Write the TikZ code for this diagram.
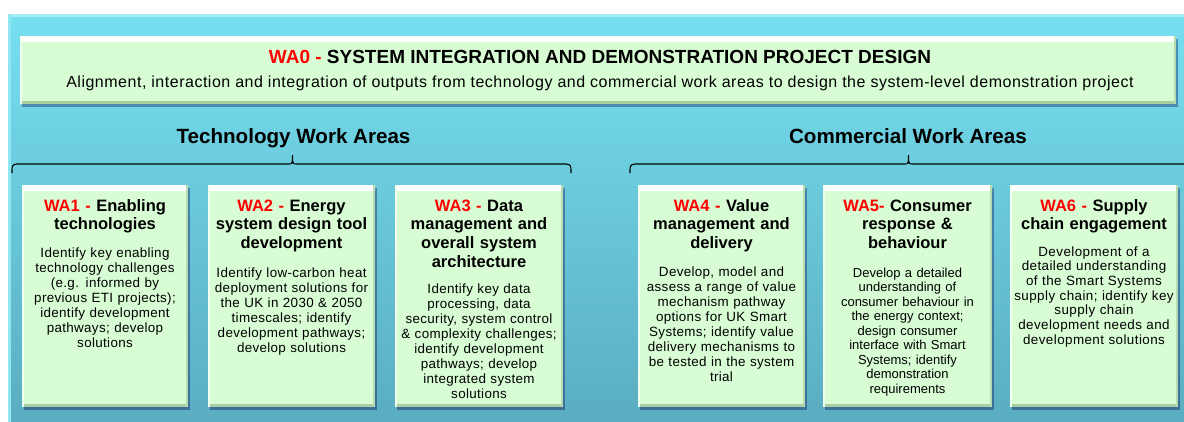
\documentclass[tikz,border=0pt]{standalone}
\usepackage{fontspec}
\setmainfont{Liberation Sans}
\newfontfamily\bodyfont[LetterSpace=2.5]{Liberation Sans}
\newfontfamily\bodyfontw[LetterSpace=3.2]{Liberation Sans}
\newfontfamily\subfont[LetterSpace=3.2]{Liberation Sans}
\usetikzlibrary{shadows}
\definecolor{panelTop}{RGB}{118,224,240}
\definecolor{panelBot}{RGB}{90,172,192}
\definecolor{boxgreen}{RGB}{216,252,212}
\definecolor{boxedge}{RGB}{168,206,160}
\definecolor{wared}{RGB}{255,0,0}
\tikzset{
  greenbox/.style={draw=none, fill=boxgreen, inner sep=0pt,
    drop shadow={shadow xshift=1.5pt, shadow yshift=-2.5pt, fill=black!70!blue, opacity=0.35},
    path picture={
      \shade[top color=white, bottom color=boxgreen]
        (path picture bounding box.north west) rectangle ([yshift=-5pt]path picture bounding box.north east);
      \fill[boxedge] ([yshift=3pt]path picture bounding box.south west) rectangle (path picture bounding box.south east);
      \fill[boxedge!70!boxgreen] ([xshift=-2.5pt]path picture bounding box.north east) rectangle (path picture bounding box.south east);
      \fill[white!60!boxgreen] (path picture bounding box.north west) rectangle ([xshift=2pt]path picture bounding box.south west);
    }},
  titletext/.style={anchor=base, align=center, inner sep=0pt, font=\fontsize{16.5}{18.7}\selectfont\bfseries},
  bodytext/.style={anchor=base, align=center, inner sep=0pt, font=\bodyfont\fontsize{13.4}{15}\selectfont},
  hdrtext/.style={anchor=base, inner sep=0pt, font=\fontsize{20.6}{24}\selectfont\bfseries},
  bracepath/.style={draw=black, line width=1.1pt},
}
\newcommand{\wa}[1]{\textcolor{wared}{#1}}
\begin{document}
\begin{tikzpicture}[x=1pt, y=-1pt]
\useasboundingbox (0,0) rectangle (1184,421);
\clip (0,0) rectangle (1184,421);
% blue panel
\shade[top color=panelTop, bottom color=panelBot] (8,14) rectangle (1190,430);
\fill[white!35!panelTop] (8,14) rectangle (1190,17);
\fill[white!20!panelTop] (8,14) rectangle (11,430);

% WA0
\node[greenbox, minimum width=1156pt, minimum height=68pt] (wa0) at (598,70) {};
\node[anchor=base, inner sep=0pt, font=\fontsize{19}{22}\selectfont\bfseries] (wa0title) at (600,63) {\wa{WA0 -} SYSTEM INTEGRATION AND DEMONSTRATION PROJECT DESIGN};
\node[anchor=base, inner sep=0pt, font=\subfont\fontsize{16}{18}\selectfont] (wa0sub) at (600,87) {Alignment, interaction and integration of outputs from technology and commercial work areas to design the system-level demonstration project};

% headers
\node[hdrtext] (tech) at (293.5,143) {Technology Work Areas};
\node[hdrtext] (comm) at (908,143) {Commercial Work Areas};

% braces
\coordinate (tL) at (12,173);
\coordinate (tR) at (571,173);
\coordinate (cL) at (630,173);
\draw[bracepath] (tL) .. controls (12,165) .. (17,164) -- (288,164) .. controls (292.5,164) .. (292.5,155) .. controls (292.5,164) .. (297,164) -- (566,164) .. controls (571,165) .. (tR);
\draw[bracepath] (cL) .. controls (630,165) .. (635,164) -- (904,164) .. controls (908.5,164) .. (908.5,155) .. controls (908.5,164) .. (913,164) -- (1200,164);

% boxes
\node[greenbox, minimum width=166pt, minimum height=222pt] (wa1) at (105,296) {};
\node[greenbox, minimum width=167pt, minimum height=222pt] (wa2) at (291.5,296) {};
\node[greenbox, minimum width=168pt, minimum height=222pt] (wa3) at (479,296) {};
\node[greenbox, minimum width=167pt, minimum height=222pt] (wa4) at (721.5,296) {};
\node[greenbox, minimum width=169pt, minimum height=222pt] (wa5) at (907.5,296) {};
\node[greenbox, minimum width=168pt, minimum height=222pt] (wa6) at (1094,296) {};

% WA1
\node[titletext, text width=164pt] (wa1t) at (105,211) {\wa{WA1 -} Enabling\\technologies};
\node[bodytext, text width=164pt] (wa1b) at (105,257) {Identify key enabling\\technology challenges\\(e.g. informed by\\previous ETI projects);\\identify development\\pathways; develop\\solutions};
% WA2
\node[titletext, text width=165pt] (wa2t) at (291.5,211) {\wa{WA2 -} Energy\\system design tool\\development};
\node[bodytext, text width=165pt] (wa2b) at (291.5,277) {Identify low-carbon heat\\deployment solutions for\\the UK in 2030 \& 2050\\timescales; identify\\development pathways;\\develop solutions};
% WA3
\node[titletext, text width=166pt] (wa3t) at (479,211) {\wa{WA3 -} Data\\management and\\overall system\\architecture};
\node[bodytext, text width=166pt] (wa3b) at (479,293) {Identify key data\\processing, data\\security, system control\\\& complexity challenges;\\identify development\\pathways; develop\\integrated system\\solutions};
% WA4
\node[titletext, text width=165pt] (wa4t) at (721.5,211) {\wa{WA4 -} Value\\management and\\delivery};
\node[bodytext, text width=165pt] (wa4b) at (721.5,276) {Develop, model and\\assess a range of value\\mechanism pathway\\options for UK Smart\\Systems; identify value\\delivery mechanisms to\\be tested in the system\\trial};
% WA5
\node[titletext, text width=167pt] (wa5t) at (907.5,211) {\wa{WA5-} Consumer\\response \&\\behaviour};
\node[bodytext, text width=167pt, font=\fontsize{13}{14.5}\selectfont] (wa5b) at (907.5,277) {Develop a detailed\\understanding of\\consumer behaviour in\\the energy context;\\design consumer\\interface with Smart\\Systems; identify\\demonstration\\requirements};
% WA6
\node[titletext, text width=166pt] (wa6t) at (1094,211) {\wa{WA6 -} Supply\\chain engagement};
\node[bodytext, text width=166pt, font=\bodyfontw\fontsize{13.4}{14.7}\selectfont] (wa6b) at (1094,256) {Development of a\\detailed understanding\\of the Smart Systems\\supply chain; identify key\\supply chain\\development needs and\\development solutions};
\end{tikzpicture}
\end{document}
